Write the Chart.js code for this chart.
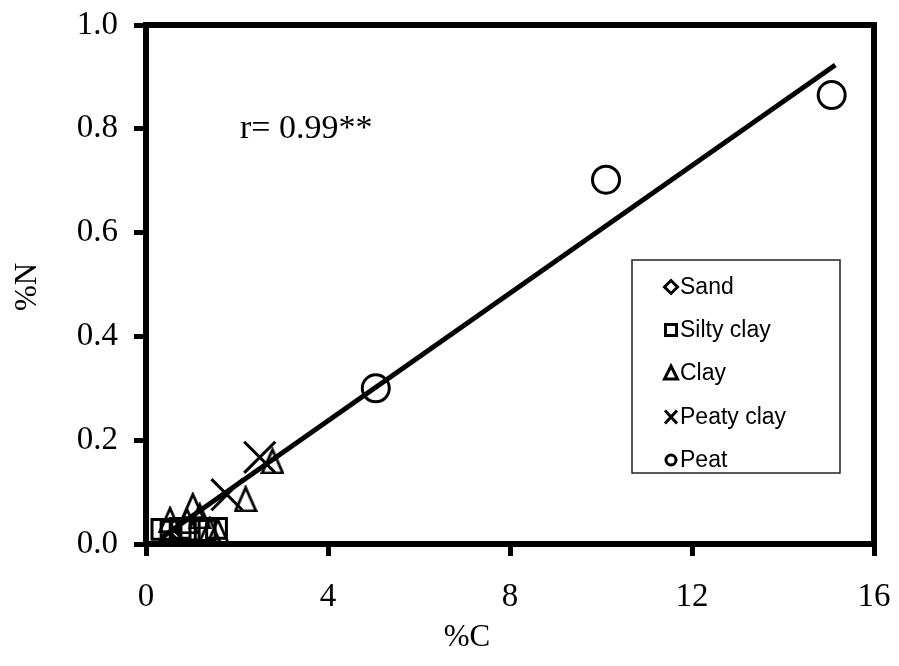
<!DOCTYPE html>
<html><head><meta charset="utf-8">
<script src="https://cdn.jsdelivr.net/npm/chart.js@4"></script>
<style>html,body{margin:0;padding:0;background:#fff;}#wrap{width:899px;height:666px;position:relative;}</style>
</head><body><div id="wrap"><canvas id="c" width="899" height="666"></canvas></div>
<script>
// ---- data ----
const seriesNames = ['Sand', 'Silty clay', 'Clay', 'Peaty clay', 'Peat'];
const sandC = [0.52, 0.58];
const sandN = [0.006, 0.012];
const siltyClayC = [0.35, 0.55, 0.75, 0.95, 1.3, 1.55];
const siltyClayN = [0.028, 0.025, 0.03, 0.027, 0.026, 0.03];
const clayC = [0.53, 0.9, 1.03, 1.18, 1.4, 1.58, 2.19, 2.78];
const clayN = [0.047, 0.045, 0.074, 0.054, 0.027, 0.025, 0.087, 0.16];
const peatyClayC = [1.78, 2.5];
const peatyClayN = [0.095, 0.167];
const peatC = [5.05, 10.11, 15.07];
const peatN = [0.30, 0.702, 0.865];
const fitC = [0.35, 15.15];
const fitN = [0.013, 0.923];
const xTicks = [0, 4, 8, 12, 16];
const yTicks = [0, 0.2, 0.4, 0.6, 0.8, 1.0];
const rLabel = 'r= 0.99**';
const xTitle = '%C';
const yTitle = '%N';

const pts = (xs, ys) => xs.map((x, i) => ({x: x, y: ys[i]}));

function triCanvas(w, h, lw) {
  const c = document.createElement('canvas');
  c.width = w; c.height = h;
  const g = c.getContext('2d');
  g.strokeStyle = '#000'; g.lineWidth = lw; g.lineJoin = 'miter';
  const p = lw;
  g.beginPath();
  g.moveTo(w / 2, p * 0.8);
  g.lineTo(w - p * 0.6, h - p / 2);
  g.lineTo(p * 0.6, h - p / 2);
  g.closePath();
  g.stroke();
  return c;
}
const bigTri = triCanvas(24, 27, 2.8);

const serif = 'Liberation Serif, Times New Roman, serif';
const sans = 'Liberation Sans, Arial, sans-serif';

const frame = {
  id: 'frame',
  afterDatasetsDraw(chart) {
    const {ctx, chartArea: a} = chart;
    ctx.save();
    ctx.strokeStyle = '#000';
    ctx.lineWidth = 6;
    ctx.beginPath();
    ctx.moveTo(a.left - 3, a.top);
    ctx.lineTo(a.right, a.top);
    ctx.lineTo(a.right, a.bottom + 3);
    ctx.stroke();
    // annotation
    ctx.fillStyle = '#000';
    ctx.font = '34px ' + serif;
    ctx.textBaseline = 'middle';
    ctx.textAlign = 'left';
    ctx.fillText(rLabel, 240, 129);
    // axis titles
    ctx.font = '31px ' + serif;
    ctx.textAlign = 'center';
    ctx.fillText(xTitle, 467, 638);
    ctx.save();
    ctx.translate(28, 287);
    ctx.rotate(-Math.PI / 2);
    ctx.fillText(yTitle, 0, 0);
    ctx.restore();
    // legend
    const bx = 632, by = 260, bw = 208, bh = 213;
    ctx.fillStyle = '#fff';
    ctx.fillRect(bx, by, bw, bh);
    ctx.lineWidth = 1.5;
    ctx.strokeStyle = '#222';
    ctx.strokeRect(bx, by, bw, bh);
    const ys = [287, 330, 373, 417, 460];
    const mx = 671;
    ctx.lineWidth = 3;
    ctx.strokeStyle = '#000';
    ys.forEach((y, i) => {
      ctx.beginPath();
      if (i === 0) { ctx.moveTo(mx, y - 6.5); ctx.lineTo(mx + 6.5, y); ctx.lineTo(mx, y + 6.5); ctx.lineTo(mx - 6.5, y); ctx.closePath(); }
      else if (i === 1) { ctx.rect(mx - 5.5, y - 5.5, 11, 11); }
      else if (i === 2) { ctx.moveTo(mx, y - 7); ctx.lineTo(mx + 6.5, y + 6); ctx.lineTo(mx - 6.5, y + 6); ctx.closePath(); }
      else if (i === 3) { ctx.moveTo(mx - 6, y - 6.5); ctx.lineTo(mx + 6, y + 6.5); ctx.moveTo(mx + 6, y - 6.5); ctx.lineTo(mx - 6, y + 6.5); }
      else { ctx.arc(mx, y, 5, 0, Math.PI * 2); }
      ctx.stroke();
    });
    ctx.fillStyle = '#000';
    ctx.font = '23px ' + sans;
    ctx.textAlign = 'left';
    ctx.textBaseline = 'middle';
    ys.forEach((y, i) => ctx.fillText(seriesNames[i], 680, y + 1));
    ctx.restore();
  }
};

new Chart(document.getElementById('c'), {
  type: 'scatter',
  data: {
    datasets: [
      {label: seriesNames[0], data: pts(sandC, sandN), pointStyle: 'rectRot', pointRadius: 9, borderColor: '#000', backgroundColor: 'rgba(0,0,0,0)', borderWidth: 3},
      {label: seriesNames[1], data: pts(siltyClayC, siltyClayN), pointStyle: 'rect', pointRadius: 14, borderColor: '#000', backgroundColor: 'rgba(0,0,0,0)', borderWidth: 3},
      {label: seriesNames[2], data: pts(clayC, clayN), pointStyle: bigTri, borderColor: '#000', backgroundColor: 'rgba(0,0,0,0)'},
      {label: seriesNames[3], data: pts(peatyClayC, peatyClayN), pointStyle: 'crossRot', pointRadius: 22, borderColor: '#000', backgroundColor: 'rgba(0,0,0,0)', borderWidth: 3},
      {label: seriesNames[4], data: pts(peatC, peatN), pointStyle: 'circle', pointRadius: 13.5, borderColor: '#000', backgroundColor: 'rgba(0,0,0,0)', borderWidth: 3},
      {label: 'fit', type: 'line', data: pts(fitC, fitN), showLine: true, pointRadius: 0, borderColor: '#000', borderWidth: 5, fill: false}
    ]
  },
  options: {
    responsive: false,
    animation: false,
    devicePixelRatio: 1,
    layout: {padding: {top: 24, right: 23, left: 0, bottom: 0}},
    plugins: {legend: {display: false}, tooltip: {enabled: false}},
    elements: {point: {hoverRadius: 0}},
    scales: {
      x: {
        type: 'linear', min: 0, max: 16,
        afterBuildTicks: s => { s.ticks = xTicks.map(v => ({value: v})); },
        afterFit: s => { s.height = 122; s.paddingLeft = 0; s.paddingRight = 0; },
        ticks: {color: '#000', font: {family: serif, size: 33}, padding: 22, maxRotation: 0, callback: v => String(v)},
        grid: {drawOnChartArea: false, drawTicks: true, tickLength: 12, tickWidth: 5, tickColor: '#000'},
        border: {display: true, color: '#000', width: 6}
      },
      y: {
        type: 'linear', min: 0, max: 1,
        afterBuildTicks: s => { s.ticks = yTicks.map(v => ({value: v})); },
        afterFit: s => { s.width = 146; s.paddingTop = 0; s.paddingBottom = 0; },
        ticks: {color: '#000', font: {family: serif, size: 33}, padding: 16, callback: v => Number(v).toFixed(1)},
        grid: {drawOnChartArea: false, drawTicks: true, tickLength: 12, tickWidth: 5, tickColor: '#000'},
        border: {display: true, color: '#000', width: 6}
      }
    }
  },
  plugins: [frame]
});
</script>
</body></html>
